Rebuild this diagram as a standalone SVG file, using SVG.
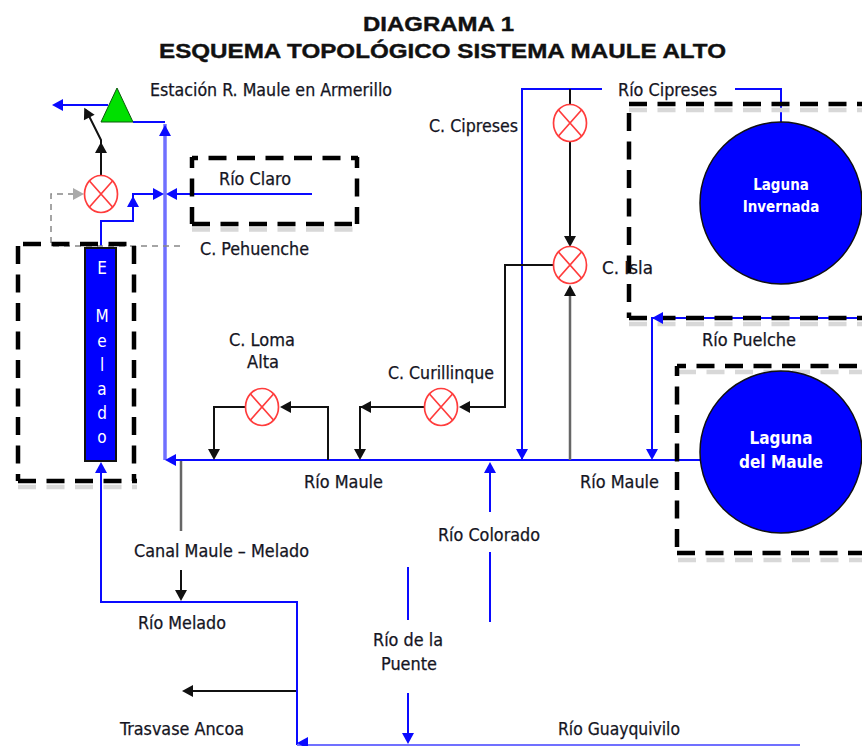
<svg xmlns="http://www.w3.org/2000/svg" width="862" height="746" viewBox="0 0 862 746">
<style>
text{font-family:"DejaVu Sans Condensed","DejaVu Sans","Noto Sans",sans-serif;font-size:17px;fill:#15151f;stroke:#15151f;stroke-width:.25;text-anchor:start}
.t{font-family:"Liberation Sans",Arial,sans-serif;font-weight:bold;font-size:21px;fill:#111;stroke:#111;stroke-width:.4}
.w{fill:#fff;stroke:none;font-weight:bold;text-anchor:middle}
.m{fill:#fff;stroke:none;text-anchor:middle;font-size:17px}
.b{fill:none;stroke:#0a0aff;stroke-width:2}
.lb{fill:none;stroke:#7070ff;stroke-width:3.5}
.k{fill:none;stroke:#111;stroke-width:2}
.g{fill:none;stroke:#666;stroke-width:2.5}
.d{fill:none;stroke:#888;stroke-width:1.5;stroke-dasharray:6 5}
.box{fill:none;stroke:#000;stroke-width:4.5;stroke-dasharray:18 10.5}
.sh{fill:none;stroke:#d8d8d8;stroke-width:4.5;stroke-dasharray:18 10.5}
.v{fill:#fff;stroke:#ff3c3c;stroke-width:1.7}
.x{stroke:#ff3c3c;stroke-width:1.7}
.ab{fill:#0a0aff}.ak{fill:#111}.ag{fill:#aaa}
.lake{fill:#0000ff;stroke:#111;stroke-width:1.5}
</style>
<defs>
<g id="valve"><ellipse class="v" rx="16.5" ry="18.5"/><path class="x" d="M-11.5-13 11.5 13M-11.5 13 11.5-13"/></g>
<path id="up" d="M0-6 6 5H-6Z"/>
</defs>
<text class="t" x="363" y="31" textLength="151" lengthAdjust="spacingAndGlyphs">DIAGRAMA 1</text>
<text class="t" x="159" y="58" textLength="567" lengthAdjust="spacingAndGlyphs">ESQUEMA TOPOLÓGICO SISTEMA MAULE ALTO</text>

<g id="connectors">
<path class="lb" d="M165 460V124"/>
<path class="b" d="M133 122H165M108 105H58M101 246V221H133V194H160M312 194H170"/>
<path class="b" d="M522 460V89H602M735 89H781V122"/>
<path class="b" d="M862 318H652V455"/>
<path class="b" d="M700 460H172"/>
<path class="b" d="M490 622V552M490 512V466M408 567V620M408 693V738"/>
<path class="b" d="M297 745V602H101V466"/>
<path class="lb" d="M297 745H800" style="stroke-width:2"/>
<path class="k" d="M101 175V140L86 110"/>
<path class="k" d="M570 89V105M570 142V240M553 265H505V407H464M424 407H360V455M328 460V407H285M245 407H214V455"/>
<path class="g" d="M570 460V290M181 461V531"/>
<path class="k" d="M181 570V595M296 691H188"/>
<path class="d" d="M74 194H51V246H183"/>
<use href="#up" class="ab" transform="translate(165 131)"/>
<use href="#up" class="ab" transform="translate(58 105) rotate(-90)"/>
<use href="#up" class="ab" transform="translate(133 202)"/>
<use href="#up" class="ab" transform="translate(158 194) rotate(90)"/>
<use href="#up" class="ab" transform="translate(172 194) rotate(-90)"/>
<use href="#up" class="ab" transform="translate(171 460) rotate(-90)"/>
<use href="#up" class="ab" transform="translate(522 454) rotate(180)"/>
<use href="#up" class="ab" transform="translate(652 454) rotate(180)"/>
<use href="#up" class="ab" transform="translate(490 468)"/>
<use href="#up" class="ab" transform="translate(408 738) rotate(180)"/>
<use href="#up" class="ab" transform="translate(101 468)"/>
<use href="#up" class="ab" transform="translate(303 743) rotate(-90)"/>
<use href="#up" class="ak" transform="translate(101 148)"/>
<use href="#up" class="ak" transform="translate(87 113) rotate(-27)"/>
<use href="#up" class="ak" transform="translate(570 241) rotate(180)"/>
<use href="#up" class="ak" transform="translate(570 291)"/>
<use href="#up" class="ak" transform="translate(465 407) rotate(-90)"/>
<use href="#up" class="ak" transform="translate(366 407) rotate(-90)"/>
<use href="#up" class="ak" transform="translate(286 407) rotate(-90)"/>
<use href="#up" class="ak" transform="translate(360 454) rotate(180)"/>
<use href="#up" class="ak" transform="translate(214 454) rotate(180)"/>
<use href="#up" class="ak" transform="translate(181 595) rotate(180)"/>
<use href="#up" class="ak" transform="translate(188 691) rotate(-90)"/>
<use href="#up" class="ag" transform="translate(78 194) rotate(90)"/>
</g>

<g id="box-claro"><path class="sh" d="M192 229.500H358"/><path class="box" style="stroke-dashoffset:12" d="M192 158H358"/><path class="box" style="stroke-dashoffset:7" d="M192 157V224M357 157V224"/><path class="box" d="M192 224H352"/></g>
<g id="box-melado"><path class="sh" d="M18 487H137"/><path class="box" d="M23 244H129M18 246V481M134 246V481M18 481H137"/></g>
<g id="box-invernada"><path class="sh" d="M629 110H862M629 324H862"/><path class="box" d="M629 104H862M629 113V318M629 318H862"/></g>
<g id="box-maule"><path class="sh" d="M678 372H862M678 560H862"/><path class="box" style="stroke-dashoffset:9" d="M677 366H862"/><path class="box" style="stroke-dashoffset:8" d="M677 366V553"/><path class="box" d="M677 553H862"/></g>
<use id="puelche-arrow" href="#up" class="ab" transform="translate(658 318) rotate(-90)"/>

<g id="estacion"><path d="M117 88 133 122H101Z" fill="#00e000" stroke="#0a5a0a" stroke-width="1"/></g>
<g id="c-pehuenche"><use href="#valve" transform="translate(101 194)"/></g>
<g id="c-cipreses"><use href="#valve" transform="translate(570 123)"/></g>
<g id="c-isla"><use href="#valve" transform="translate(570 265)"/></g>
<g id="c-curillinque"><use href="#valve" transform="translate(441 407)"/></g>
<g id="c-loma-alta"><use href="#valve" transform="translate(262 407)"/></g>
<g id="melado"><rect x="85" y="248" width="31" height="213" fill="#0000ff" stroke="#111" stroke-width="2"/>
<text class="m" x="102" y="274">E</text><text class="m" x="102" y="322">M</text><text class="m" x="102" y="347">e</text><text class="m" x="102" y="371">l</text><text class="m" x="102" y="395">a</text><text class="m" x="102" y="419">d</text><text class="m" x="102" y="443">o</text></g>
<g id="laguna-invernada"><circle class="lake" cx="781" cy="203" r="81"/><text class="w" x="781" y="190" style="font-size:15px">Laguna</text><text class="w" x="781" y="212" style="font-size:15px">Invernada</text></g>
<g id="laguna-maule"><circle class="lake" cx="781" cy="452" r="81"/><text class="w" x="781" y="444" style="font-size:17px">Laguna</text><text class="w" x="781" y="468" style="font-size:17px">del Maule</text></g>

<g id="labels">
<text x="150" y="96" textLength="242" lengthAdjust="spacingAndGlyphs">Estación R. Maule en Armerillo</text>
<text x="429" y="132" textLength="89" lengthAdjust="spacingAndGlyphs">C. Cipreses</text>
<text x="618" y="96" textLength="99" lengthAdjust="spacingAndGlyphs">Río Cipreses</text>
<text x="219" y="185" textLength="72" lengthAdjust="spacingAndGlyphs">Río Claro</text>
<text x="200" y="255" textLength="109" lengthAdjust="spacingAndGlyphs">C. Pehuenche</text>
<text x="602" y="274" textLength="51" lengthAdjust="spacingAndGlyphs">C. Isla</text>
<text x="702" y="346" textLength="94" lengthAdjust="spacingAndGlyphs">Río Puelche</text>
<text x="229" y="346" textLength="66" lengthAdjust="spacingAndGlyphs">C. Loma</text>
<text x="247" y="368" textLength="32" lengthAdjust="spacingAndGlyphs">Alta</text>
<text x="388" y="379" textLength="106" lengthAdjust="spacingAndGlyphs">C. Curillinque</text>
<text x="304" y="488" textLength="79" lengthAdjust="spacingAndGlyphs">Río Maule</text>
<text x="580" y="488" textLength="79" lengthAdjust="spacingAndGlyphs">Río Maule</text>
<text x="134" y="557" textLength="175" lengthAdjust="spacingAndGlyphs">Canal Maule – Melado</text>
<text x="438" y="541" textLength="102" lengthAdjust="spacingAndGlyphs">Río Colorado</text>
<text x="138" y="629" textLength="88" lengthAdjust="spacingAndGlyphs">Río Melado</text>
<text x="373" y="646" textLength="70" lengthAdjust="spacingAndGlyphs">Río de la</text>
<text x="381" y="670" textLength="56" lengthAdjust="spacingAndGlyphs">Puente</text>
<text x="120" y="735" textLength="124" lengthAdjust="spacingAndGlyphs">Trasvase Ancoa</text>
<text x="558" y="735" textLength="122" lengthAdjust="spacingAndGlyphs">Río Guayquivilo</text>
</g>
</svg>
